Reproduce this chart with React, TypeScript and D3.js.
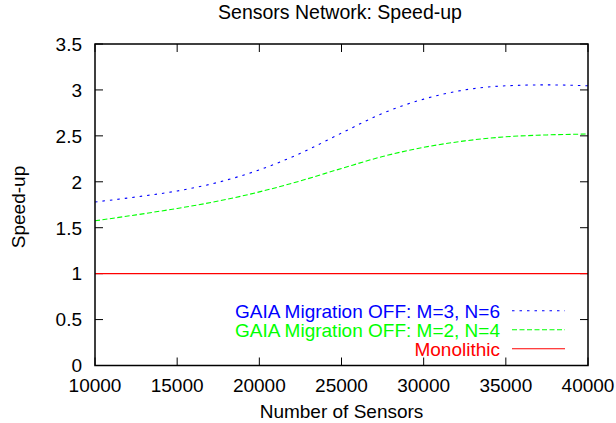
import React from 'react';
import * as d3 from 'd3';

const W = 616, H = 423;
const margin = { left: 95, right: 28, top: 44, bottom: 57.5 };

// number of sensors
const sensors = [10000, 12500, 15000, 17500, 20000, 22500, 25000, 27500, 30000, 32500, 35000, 37500, 40000];
// speed-up values
const gaiaM3N6 = [1.78, 1.835, 1.9, 1.995, 2.13, 2.31, 2.53, 2.745, 2.9, 3.0, 3.045, 3.055, 3.045];
const gaiaM2N4 = [1.575, 1.64, 1.71, 1.79, 1.89, 2.01, 2.145, 2.275, 2.375, 2.445, 2.49, 2.51, 2.52];
const monolithic = [1, 1, 1, 1, 1, 1, 1, 1, 1, 1, 1, 1, 1];

const xTicks = [10000, 15000, 20000, 25000, 30000, 35000, 40000];
const yTicks = [0, 0.5, 1, 1.5, 2, 2.5, 3, 3.5];

const seriesNames = ['GAIA Migration OFF: M=3, N=6', 'GAIA Migration OFF: M=2, N=4', 'Monolithic'];
const seriesColors = ['#0000ff', '#00ff00', '#ff0000'];
const seriesDash = ['2.5,5', '5,2.5', null];

const font = '"Liberation Sans", Arial, Helvetica, sans-serif';

export default function App() {
  const x = d3.scaleLinear().domain([10000, 40000]).range([margin.left, W - margin.right]);
  const y = d3.scaleLinear().domain([0, 3.5]).range([H - margin.bottom, margin.top]);
  const x0 = x.range()[0], x1 = x.range()[1];
  const y0 = y.range()[0], y1 = y.range()[1];
  const tick = 8;

  const line = d3.line<[number, number]>()
    .x(d => x(d[0]))
    .y(d => y(d[1]))
    .curve(d3.curveMonotoneX);

  const allSeries = [gaiaM3N6, gaiaM2N4, monolithic];

  return (
    <div style={{ position: 'absolute', left: 0, top: 0 }}>
      <svg width={W} height={H} style={{ display: 'block', background: '#fff' }} fontFamily={font}>
        <text x={340} y={19} textAnchor="middle" fontSize={19.5} fill="#000">Sensors Network: Speed-up</text>

        {/* ticks, mirrored on all sides */}
        {yTicks.map(t => (
          <g key={'y' + t}>
            <line x1={x0} x2={x0 + tick} y1={y(t)} y2={y(t)} stroke="#000" />
            <line x1={x1} x2={x1 - tick} y1={y(t)} y2={y(t)} stroke="#000" />
            <text x={82} y={y(t)} dy="0.36em" textAnchor="end" fontSize={19}>{t}</text>
          </g>
        ))}
        {xTicks.map(t => (
          <g key={'x' + t}>
            <line x1={x(t)} x2={x(t)} y1={y0} y2={y0 - tick} stroke="#000" />
            <line x1={x(t)} x2={x(t)} y1={y1} y2={y1 + tick} stroke="#000" />
            <text x={x(t)} y={391.5} textAnchor="middle" fontSize={19}>{t}</text>
          </g>
        ))}

        {allSeries.map((vals, i) => (
          <path key={i}
            d={line(sensors.map((s, j) => [s, vals[j]] as [number, number])) || ''}
            fill="none" stroke={seriesColors[i]} strokeWidth={1.1}
            strokeDasharray={seriesDash[i] || undefined} />
        ))}

        {/* legend */}
        {seriesNames.map((name, i) => {
          const ly = 310.7 + i * 19;
          return (
            <g key={name}>
              <text x={500} y={ly} dy="0.36em" textAnchor="end" fontSize={19} fill={seriesColors[i]}>{name}</text>
              <line x1={512} x2={565} y1={ly} y2={ly} stroke={seriesColors[i]} strokeWidth={1.1}
                strokeDasharray={seriesDash[i] || undefined} />
            </g>
          );
        })}

        <rect x={x0} y={y1} width={x1 - x0} height={y0 - y1} fill="none" stroke="#000" strokeWidth={1.5} />

        <text x={341.5} y={418} textAnchor="middle" fontSize={19}>Number of Sensors</text>
        <text transform={`translate(25,207) rotate(-90)`} textAnchor="middle" fontSize={19}>Speed-up</text>
      </svg>
    </div>
  );
}
